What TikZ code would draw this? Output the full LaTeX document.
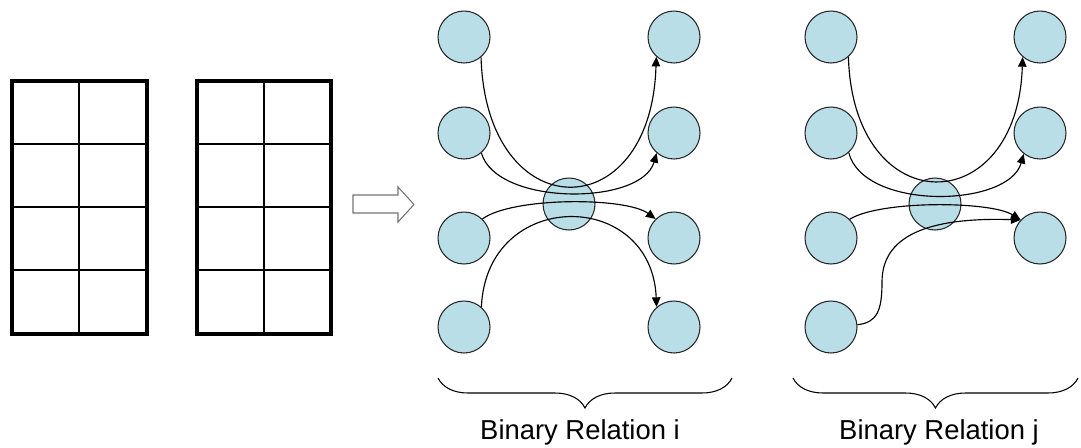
\documentclass[tikz,border=0pt]{standalone}
\usepackage{fontspec}
\setmainfont{Liberation Sans}
\usepackage{tikz}
\usetikzlibrary{arrows.meta, decorations.pathreplacing, calc}

\definecolor{vertexblue}{RGB}{185,222,231}
\tikzset{
  vertex/.style={draw=black!85, circle, fill=vertexblue, minimum size=1.04cm, inner sep=0pt, line width=0.6pt},
  link/.style={line width=0.65pt, -{Triangle[length=5.5pt,width=4.8pt]}},
  frame/.style={line width=1.9pt},
  cell/.style={line width=0.8pt},
  bracket/.style={decorate, decoration={brace, amplitude=0.6cm, mirror}, line width=0.6pt},
  caption/.style={font=\fontsize{15.6}{18}\selectfont, anchor=base}
}

\begin{document}
\begin{tikzpicture}[x=0.02cm, y=-0.02cm]
\useasboundingbox (0,0) rectangle (1081,447);

% Two tables
\draw[cell] (79,81) -- (79,334) (12,144) -- (147,144) (12,207) -- (147,207) (12,270) -- (147,270);
\draw[frame] (12,81) rectangle (147,334);
\draw[cell] (264,81) -- (264,334) (197,144) -- (331,144) (197,207) -- (331,207) (197,270) -- (331,270);
\draw[frame] (197,81) rectangle (331,334);

% Block arrow
\draw[black!55, line width=0.6pt] (353,195) -- (398,195) -- (398,187) -- (414,204.5) -- (398,222) -- (398,213) -- (353,213) -- cycle;

% Binary relation i
\node[vertex] (il1) at (464,37) {};
\node[vertex] (il2) at (464,133) {};
\node[vertex] (il3) at (464,238) {};
\node[vertex] (il4) at (464,327) {};
\node[vertex] (ir1) at (674,37) {};
\node[vertex] (ir2) at (674,133) {};
\node[vertex] (ir3) at (674,238) {};
\node[vertex] (ir4) at (674,327) {};
\node[vertex] (ic) at (569,204) {};

\draw[link] (il1.-50) .. controls +(5,171) and +(-5,173) .. (ir1.-132);
\draw[link] (il2.-49) .. controls +(15,53) and +(-15,53) .. (ir2.-131);
\draw[link] (il3.46) .. controls +(30,-22) and +(-30,-22) .. (ir3.134);
\draw[link] (il4.49) .. controls +(5,-119) and +(-5,-119) .. (ir4.131);

% Binary relation j
\node[vertex] (jl1) at (831,37) {};
\node[vertex] (jl2) at (831,133) {};
\node[vertex] (jl3) at (831,238) {};
\node[vertex] (jl4) at (831,327) {};
\node[vertex] (jr1) at (1040,37) {};
\node[vertex] (jr2) at (1040,133) {};
\node[vertex] (jr3) at (1040,238) {};
\node[vertex] (jc) at (935,204) {};
\coordinate (jbend) at (882,282);

\draw[link] (jl1.-49) .. controls +(5,166) and +(-5,164) .. (jr1.-131);
\draw[link] (jl2.-48) .. controls +(15,58) and +(-15,54) .. (jr2.-128);
\draw[link] (jl3.45) .. controls +(30,-19) and +(-30,-19) .. (jr3.137);
\draw[link] (jl4.5) .. controls +(20,-2) and +(0,28) .. (jbend)
  .. controls +(0,-45) and +(-95,-3) .. (jr3.137);

% Braces and captions
\coordinate (ia) at (438,378);
\coordinate (ib) at (732,378);
\coordinate (ja) at (793,378);
\coordinate (jb) at (1078,378);
\draw[bracket] (ia) -- (ib);
\draw[bracket] (ja) -- (jb);
\node[caption] (capi) at (580,439) {Binary Relation i};
\node[caption] (capj) at (939,439) {Binary Relation j};
\end{tikzpicture}
\end{document}
